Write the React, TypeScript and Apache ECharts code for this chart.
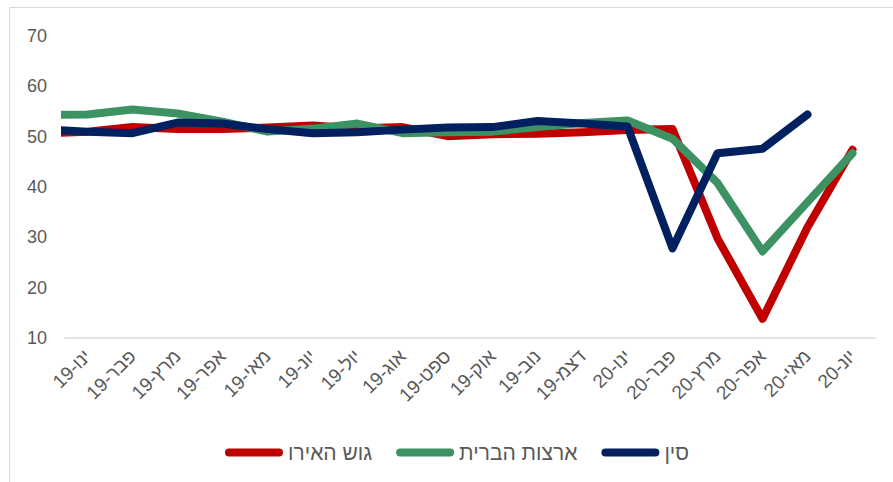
import React, { useEffect, useRef } from "react";
import * as echarts from "echarts";

const months = [
  "ינו-19", "פבר-19", "מרץ-19", "אפר-19", "מאי-19", "יונ-19", "יול-19", "אוג-19", "ספט-19",
  "אוק-19", "נוב-19", "דצמ-19", "ינו-20", "פבר-20", "מרץ-20", "אפר-20", "מאי-20", "יונ-20",
];
const seriesNames = ["גוש האירו", "ארצות הברית", "סין"];
const euro = [51.0, 51.9, 51.5, 51.5, 51.8, 52.2, 51.6, 51.9, 50.1, 50.5, 50.6, 50.9, 51.3, 51.5, 29.8, 13.8, 32.0, 47.4];
const us = [54.4, 55.4, 54.6, 53.0, 51.0, 51.6, 52.6, 50.7, 50.9, 51.0, 51.9, 52.7, 53.2, 49.6, 40.8, 27.2, 37.0, 46.7];
const china = [51.0, 50.7, 52.8, 52.6, 51.5, 50.7, 50.9, 51.4, 51.8, 51.9, 53.1, 52.6, 52.0, 27.8, 46.7, 47.6, 54.4, null];
// values of the month before the first category (line enters the plot from the left edge)
const priorMonth = [50.6, 54.3, 51.5];
const yTicks = { min: 10, max: 70, interval: 10 };
const colors = ["#C00000", "#3D9263", "#002060"];

const FONT = "'Liberation Sans', 'DejaVu Sans', Arial, sans-serif";

function toPoints(vals: (number | null)[], prior: number) {
  const pts: [number, number][] = [[-1, prior]];
  vals.forEach((v, i) => {
    if (v !== null) pts.push([i, v]);
  });
  return pts;
}

export default function App() {
  const ref = useRef<HTMLDivElement>(null);
  useEffect(() => {
    if (!ref.current) return;
    const chart = echarts.init(ref.current, undefined, { renderer: "svg" });
    const all = [euro, us, china];
    chart.setOption({
      animation: false,
      backgroundColor: "#ffffff",
      textStyle: { fontFamily: FONT },
      graphic: [
        {
          type: "rect",
          shape: { x: 9.5, y: 7.5, width: 1000, height: 1000 },
          style: { fill: "none", stroke: "#d9d9d9", lineWidth: 1 },
          silent: true,
        },
      ],
      grid: { left: 65, right: 18, top: 36, bottom: 144, containLabel: false },
      legend: {
        left: 220,
        top: 437,
        itemWidth: 58,
        itemHeight: 8,
        itemGap: 24,
        icon: "path://M4,0H54A4,4,0,0,1,54,8H4A4,4,0,0,1,4,0Z",
        textStyle: { color: "#595959", fontSize: 21, fontFamily: FONT },
        data: seriesNames,
      },
      xAxis: [
        {
          type: "category",
          data: months,
          boundaryGap: true,
          axisLine: { show: true, lineStyle: { color: "#d9d9d9", width: 1.5 } },
          axisTick: { show: false },
          axisLabel: {
            rotate: 45,
            interval: 0,
            margin: 15,
            color: "#595959",
            fontSize: 19,
            fontFamily: FONT,
          },
          splitLine: { show: false },
        },
        {
          type: "value",
          min: -0.5,
          max: 17.5,
          show: false,
          splitLine: { show: false },
        },
      ],
      yAxis: {
        type: "value",
        min: yTicks.min,
        max: yTicks.max,
        interval: yTicks.interval,
        axisLine: { show: false },
        axisTick: { show: false },
        splitLine: { show: false },
        axisLabel: { color: "#595959", fontSize: 18, margin: 18, fontFamily: FONT },
      },
      series: seriesNames.map((name, k) => ({
        name,
        type: "line",
        xAxisIndex: 1,
        data: toPoints(all[k], priorMonth[k]),
        showSymbol: false,
        symbol: "none",
        clip: true,
        color: colors[k],
        lineStyle: { width: 8, color: colors[k], cap: "round", join: "round" },
        z: 2 + k,
      })),
    });
    return () => chart.dispose();
  }, []);
  return (
    <div
      ref={ref}
      style={{ position: "fixed", left: 0, top: 0, width: 893, height: 482 }}
    />
  );
}
